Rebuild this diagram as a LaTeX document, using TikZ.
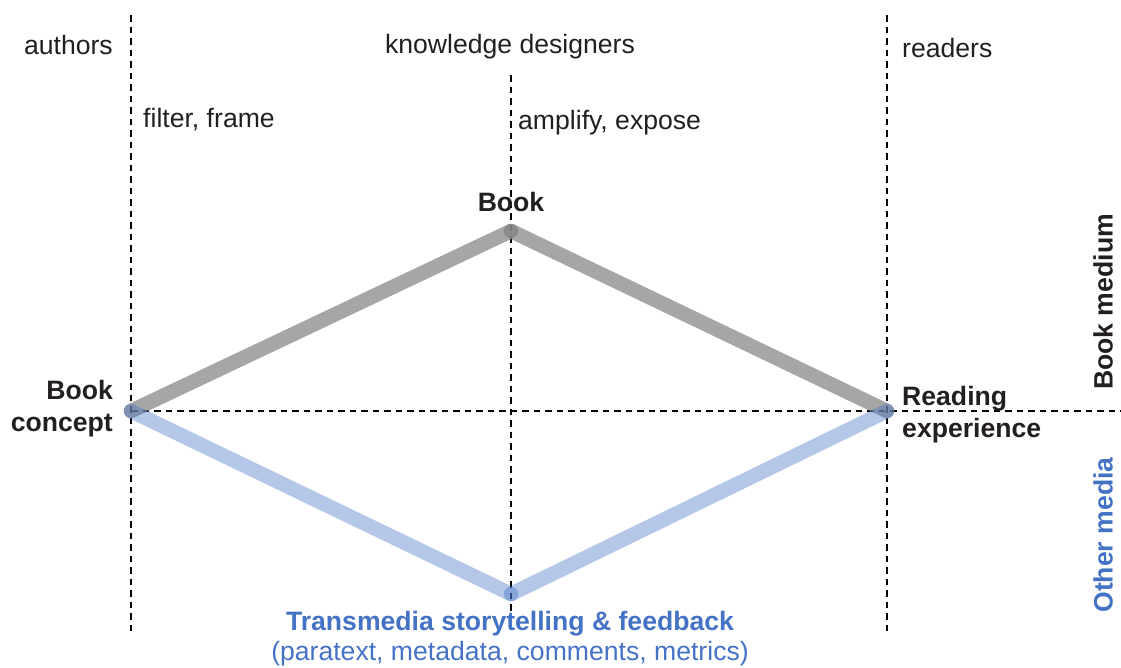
\documentclass[tikz,border=0pt]{standalone}
\usepackage{fontspec}
\setmainfont{Liberation Sans}
\definecolor{txt}{HTML}{231F20}
\definecolor{tblue}{HTML}{4472C4}
\begin{document}
\begin{tikzpicture}[x=1pt,y=-1pt,
  lbl/.style={font=\fontsize{26.6}{32}\selectfont, text=txt, inner sep=0pt},
  blbl/.style={lbl, font=\fontsize{26.6}{32}\selectfont\bfseries},
  guide/.style={draw=black, line width=1.3pt, dash pattern=on 6.5pt off 5pt},
  graybar/.style={draw=gray!100!black, draw opacity=0.7, line width=14.5pt, line cap=round},
  bluebar/.style={draw=tblue, draw opacity=0.4, line width=14.5pt, line cap=round}]
\useasboundingbox (0,0) rectangle (1121,667);
% guide ends
\coordinate (lt) at (131,15);
\coordinate (lb) at (131,635);
\coordinate (mt) at (511,75);
\coordinate (mb) at (511,612);
\coordinate (rt) at (887,15);
\coordinate (rb) at (887,635);
\coordinate (hl) at (131,411);
\coordinate (hr) at (1121,411);
% diamond points
\coordinate (bc) at (131,411);
\coordinate (bk) at (511,231);
\coordinate (re) at (887,411);
\coordinate (tm) at (511,594);
\draw[guide] (lt) -- (lb);
\draw[guide] (mt) -- (mb);
\draw[guide] (rt) -- (rb);
\draw[guide] (hl) -- (hr);
\draw[graybar] (bc) -- (bk);
\draw[graybar] (bk) -- (re);
\draw[bluebar] (bc) -- (tm);
\draw[bluebar] (tm) -- (re);
% labels
\node[lbl, anchor=east] (authors) at (113,45) {authors};
\node[lbl] (kd) at (510,47) {knowledge designers};
\node[lbl, anchor=west] (readers) at (902,48) {readers};
\node[lbl, anchor=west] (ff) at (143,120) {filter, frame};
\node[lbl, anchor=west] (ae) at (518,123) {amplify, expose};
\node[blbl] (book) at (511,202) {Book};
\node[blbl, anchor=east, align=right] (bclbl) at (113,409) {Book\\concept};
\node[blbl, anchor=west, align=left] (relbl) at (902,415) {Reading\\experience};
\node[blbl, text=tblue] (tmlbl) at (510,624) {Transmedia storytelling \& feedback};
\node[lbl, text=tblue] (tmsub) at (510,654) {(paratext, metadata, comments, metrics)};
\node[blbl, rotate=90] (bm) at (1103,302) {Book medium};
\node[blbl, rotate=90, text=tblue] (om) at (1103,535) {Other media};
\end{tikzpicture}
\end{document}
